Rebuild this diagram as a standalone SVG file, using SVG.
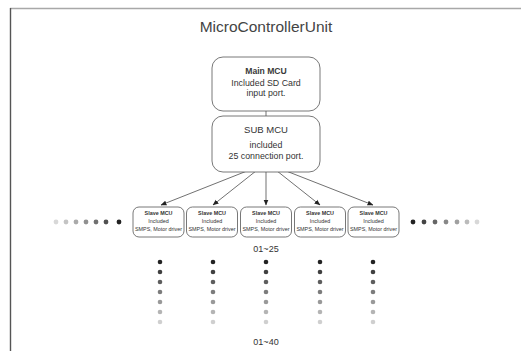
<svg xmlns="http://www.w3.org/2000/svg" width="521" height="351" viewBox="0 0 521 351">
<style>
text{font-family:"Liberation Sans",Arial,sans-serif;fill:#333;text-anchor:middle}
.box{fill:#fff;stroke:#555;stroke-width:0.8}
.t{font-size:9px}
.s{font-size:8.8px}
.st{font-size:5.4px;font-weight:bold}
.ss{font-size:5.4px}
.c{stroke:#333;stroke-width:0.7;fill:none;marker-start:url(#dot);marker-end:url(#arr)}
</style>
<defs>
<marker id="arr" viewBox="0 0 6 6" refX="5.5" refY="3" markerWidth="6" markerHeight="6" orient="auto" markerUnits="userSpaceOnUse"><path d="M0,0.5 L6,3 L0,5.5 z" fill="#222"/></marker>
<marker id="dot" viewBox="0 0 4 4" refX="2" refY="2" markerWidth="3.5" markerHeight="3.5" markerUnits="userSpaceOnUse"><circle cx="2" cy="2" r="2" fill="#222"/></marker>
</defs>
<rect width="521" height="351" fill="#fff"/>
<line x1="10" y1="8.5" x2="521" y2="8.5" stroke="#a8a8a8" stroke-width="1.5"/>
<line x1="10.5" y1="8" x2="10.5" y2="351" stroke="#555" stroke-width="1.4"/>
<text x="266" y="32" style="font-size:15.5px;fill:#444">MicroControllerUnit</text>
<g id="connectors">
<path class="c" d="M266,107 L266,121"/>
<path class="c" d="M257,167 L161,205"/>
<path class="c" d="M261,167 L213,205"/>
<path class="c" d="M266,168 L266,205"/>
<path class="c" d="M272,167 L320,205"/>
<path class="c" d="M276,167 L373,205"/>
</g>
<g id="main">
<rect class="box" x="212" y="57" width="108" height="54" rx="11"/>
<text class="t" x="266" y="74" style="font-weight:bold;font-size:8.6px;fill:#3a3a3a">Main MCU</text>
<text class="s" x="266" y="86">Included SD Card</text>
<text class="s" x="266" y="96">input port.</text>
</g>
<g id="sub">
<rect class="box" x="212" y="116" width="108" height="56" rx="11"/>
<text class="t" x="266" y="133" style="font-size:9.5px">SUB MCU</text>
<text class="s" x="266" y="148">included</text>
<text class="s" x="266" y="158.5">25 connection port.</text>
</g>
<g id="slave1">
<rect class="box" x="133" y="207" width="51" height="30" rx="6"/>
<text class="st" x="158.5" y="215">Slave MCU</text>
<text class="ss" x="158.5" y="223">Included</text>
<text class="ss" x="158.5" y="231">SMPS, Motor driver</text>
</g>
<g id="slave2">
<rect class="box" x="186.5" y="207" width="51" height="30" rx="6"/>
<text class="st" x="212" y="215">Slave MCU</text>
<text class="ss" x="212" y="223">Included</text>
<text class="ss" x="212" y="231">SMPS, Motor driver</text>
</g>
<g id="slave3">
<rect class="box" x="240.5" y="207" width="51" height="30" rx="6"/>
<text class="st" x="266" y="215">Slave MCU</text>
<text class="ss" x="266" y="223">Included</text>
<text class="ss" x="266" y="231">SMPS, Motor driver</text>
</g>
<g id="slave4">
<rect class="box" x="294.5" y="207" width="51" height="30" rx="6"/>
<text class="st" x="320" y="215">Slave MCU</text>
<text class="ss" x="320" y="223">Included</text>
<text class="ss" x="320" y="231">SMPS, Motor driver</text>
</g>
<g id="slave5">
<rect class="box" x="348" y="207" width="51" height="30" rx="6"/>
<text class="st" x="373.5" y="215">Slave MCU</text>
<text class="ss" x="373.5" y="223">Included</text>
<text class="ss" x="373.5" y="231">SMPS, Motor driver</text>
</g>
<g id="dots-left">
<circle cx="56" cy="222" r="2.4" fill="#d8d8d8"/>
<circle cx="66" cy="222" r="2.4" fill="#c4c4c4"/>
<circle cx="76" cy="222" r="2.4" fill="#aaa"/>
<circle cx="86" cy="222" r="2.4" fill="#909090"/>
<circle cx="96" cy="222" r="2.4" fill="#707070"/>
<circle cx="106" cy="222" r="2.4" fill="#505050"/>
<circle cx="119" cy="222" r="2.4" fill="#222"/>
</g>
<g id="dots-right">
<circle cx="413" cy="222" r="2.4" fill="#222"/>
<circle cx="424" cy="222" r="2.4" fill="#444"/>
<circle cx="435" cy="222" r="2.4" fill="#666"/>
<circle cx="446" cy="222" r="2.4" fill="#888"/>
<circle cx="457" cy="222" r="2.4" fill="#a0a0a0"/>
<circle cx="467" cy="222" r="2.4" fill="#bbb"/>
<circle cx="477" cy="222" r="2.4" fill="#d8d8d8"/>
</g>
<text x="266" y="252" style="font-size:9px">01~25</text>
<g id="dot-columns">
<g fill="#222"><circle cx="160" cy="262" r="2.3"/><circle cx="213" cy="262" r="2.3"/><circle cx="266" cy="262" r="2.3"/><circle cx="320" cy="262" r="2.3"/><circle cx="373" cy="262" r="2.3"/></g>
<g fill="#404040"><circle cx="160" cy="272" r="2.3"/><circle cx="213" cy="272" r="2.3"/><circle cx="266" cy="272" r="2.3"/><circle cx="320" cy="272" r="2.3"/><circle cx="373" cy="272" r="2.3"/></g>
<g fill="#5e5e5e"><circle cx="160" cy="282" r="2.3"/><circle cx="213" cy="282" r="2.3"/><circle cx="266" cy="282" r="2.3"/><circle cx="320" cy="282" r="2.3"/><circle cx="373" cy="282" r="2.3"/></g>
<g fill="#7c7c7c"><circle cx="160" cy="292" r="2.3"/><circle cx="213" cy="292" r="2.3"/><circle cx="266" cy="292" r="2.3"/><circle cx="320" cy="292" r="2.3"/><circle cx="373" cy="292" r="2.3"/></g>
<g fill="#999"><circle cx="160" cy="302" r="2.3"/><circle cx="213" cy="302" r="2.3"/><circle cx="266" cy="302" r="2.3"/><circle cx="320" cy="302" r="2.3"/><circle cx="373" cy="302" r="2.3"/></g>
<g fill="#b4b4b4"><circle cx="160" cy="312" r="2.3"/><circle cx="213" cy="312" r="2.3"/><circle cx="266" cy="312" r="2.3"/><circle cx="320" cy="312" r="2.3"/><circle cx="373" cy="312" r="2.3"/></g>
<g fill="#cfcfcf"><circle cx="160" cy="322" r="2.3"/><circle cx="213" cy="322" r="2.3"/><circle cx="266" cy="322" r="2.3"/><circle cx="320" cy="322" r="2.3"/><circle cx="373" cy="322" r="2.3"/></g>
</g>
<text x="266" y="345" style="font-size:9px">01~40</text>
</svg>
